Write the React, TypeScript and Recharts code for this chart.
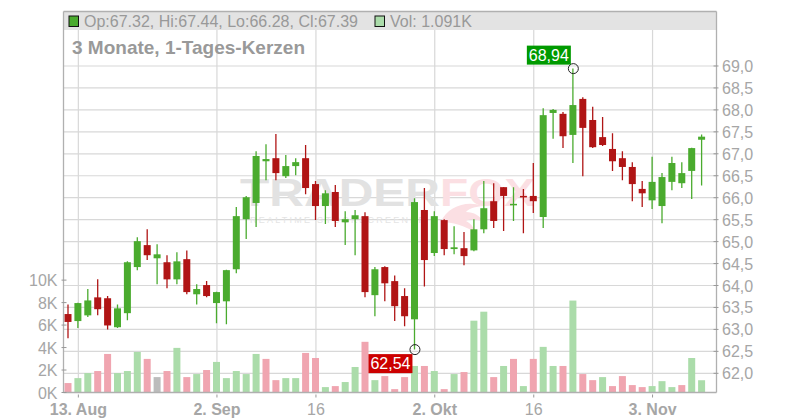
import React from 'react';
import {
  ComposedChart,
  Bar,
  XAxis,
  YAxis,
  CartesianGrid,
  ReferenceDot,
} from 'recharts';

// one entry per trading day, index 0 = 12. Aug
const opens = [63.35, 63.19, 63.32, 63.73, 63.71, 63.05, 63.37, 64.42, 64.92, 64.62, 64.53, 64.14, 64.60, 63.80, 64.01, 63.60, 63.64, 64.37, 65.51, 65.88, 66.83, 66.90, 66.49, 66.72, 66.90, 66.31, 65.81, 66.13, 65.44, 65.51, 65.58, 63.78, 64.42, 64.10, 63.76, 63.23, 65.72, 64.74, 65.49, 64.83, 64.85, 64.80, 65.28, 65.92, 66.24, 65.83, 66.04, 66.04, 65.56, 67.93, 67.91, 67.43, 68.25, 67.77, 67.38, 67.11, 66.90, 66.70, 66.20, 65.94, 65.81, 66.36, 66.33, 66.61, 67.32];
const closes = [63.17, 63.60, 63.66, 63.46, 63.09, 63.48, 64.53, 65.01, 64.69, 64.71, 64.14, 64.55, 63.85, 63.92, 63.76, 63.85, 64.35, 65.58, 66.01, 66.95, 66.88, 66.56, 66.72, 66.81, 66.22, 65.81, 66.10, 65.47, 65.51, 65.60, 63.85, 64.37, 64.05, 63.53, 63.30, 65.90, 64.58, 65.58, 64.83, 64.87, 64.67, 65.28, 65.76, 65.47, 66.04, 65.86, 66.01, 65.92, 67.88, 68.00, 67.40, 68.11, 67.59, 67.15, 67.20, 66.83, 66.70, 66.31, 66.10, 66.36, 66.47, 66.79, 66.56, 67.13, 67.39];
const highs = [63.57, 63.61, 63.92, 64.14, 63.76, 63.57, 64.55, 65.10, 65.28, 64.94, 64.69, 64.76, 64.80, 64.03, 64.10, 63.86, 64.36, 65.79, 66.04, 67.06, 67.22, 67.45, 66.97, 66.90, 67.20, 66.38, 66.17, 66.29, 65.69, 65.72, 65.67, 64.42, 64.44, 64.23, 63.94, 65.99, 66.22, 65.69, 65.51, 65.35, 65.22, 65.51, 66.38, 66.33, 66.24, 66.24, 66.20, 66.79, 68.04, 68.02, 67.95, 68.94, 68.29, 68.07, 67.84, 67.47, 67.06, 66.81, 66.38, 66.93, 66.56, 66.93, 66.81, 67.14, 67.44];
const lows = [62.80, 63.03, 63.28, 63.32, 63.00, 63.03, 63.21, 64.35, 64.58, 64.03, 63.94, 64.03, 63.80, 63.57, 63.73, 63.14, 63.12, 64.28, 65.06, 65.33, 66.40, 66.40, 66.45, 66.51, 66.08, 65.49, 65.40, 65.33, 64.92, 64.69, 63.73, 63.30, 63.64, 63.19, 63.07, 62.54, 63.98, 64.67, 64.69, 64.71, 64.46, 64.78, 65.19, 65.31, 65.24, 65.47, 65.19, 65.65, 65.31, 67.34, 67.13, 66.79, 66.49, 67.13, 67.18, 66.61, 66.40, 65.92, 65.79, 65.74, 65.42, 66.17, 66.22, 65.97, 66.28];
const volumes = [840, 1280, 1730, 1910, 3430, 1730, 1910, 3610, 2990, 1370, 1910, 3970, 1370, 1640, 2000, 2720, 1280, 1910, 1640, 3430, 2990, 1100, 1280, 1280, 3520, 3070, 480, 570, 930, 2270, 4510, 1100, 1460, 300, 1370, 2360, 2360, 1910, 300, 1640, 1820, 6390, 7190, 1370, 2360, 2990, 570, 2990, 4060, 2360, 2360, 8180, 1640, 1100, 1370, 570, 1460, 660, 480, 570, 1010, 480, 660, 3070, 1091];
// u = up, d = down, f = flat; the volume colour does not always follow the candle
const volumeDirs = 'duuddXuuudfXdududXuuuuuXdduudXduduuXdudddXududuXduuduXduduuXdudduXddddXuXuuduu'
  .replace(/X/g, '')
  .split('');

const priceTicks = [62, 62.5, 63, 63.5, 64, 64.5, 65, 65.5, 66, 66.5, 67, 67.5, 68, 68.5, 69];
const volumeTicks = [0, 2000, 4000, 6000, 8000, 10000];
const dateTicks = [1, 15, 25, 37, 47, 59];
const dateLabels: Record<number, string> = {
  1: '13. Aug', 15: '2. Sep', 25: '16', 37: '2. Okt', 47: '16', 59: '3. Nov',
};
const boldDates = [1, 15, 37, 59];

const data = opens.map((open, i) => ({
  idx: i,
  open,
  close: closes[i],
  high: highs[i],
  low: lows[i],
  volume: volumes[i],
  dir: volumeDirs[i],
}));

const UP = '#4aab2e';
const DOWN = '#b01515';
const TEXT = '#a6a6a6';
const GRID = '#d8d8d8';
const AXIS = '#b0b0b0';
const FONT = '"Liberation Sans", Arial, sans-serif';

const Candle = (props: any) => {
  const { x, y, width, height, payload } = props;
  const { open, close, high, low } = payload;
  const color = close >= open ? UP : DOWN;
  const perUnit = height / (high - low);
  const bodyTop = y + (high - Math.max(open, close)) * perUnit;
  const bodyH = Math.max(Math.abs(open - close) * perUnit, 1.5);
  const mid = x + width / 2;
  return (
    <g>
      <line x1={mid} x2={mid} y1={y} y2={y + height} stroke={color} strokeWidth={1.3} />
      <rect x={x} y={bodyTop} width={width} height={bodyH} fill={color} />
    </g>
  );
};

const VolumeBar = (props: any) => {
  const { x, y, width, height, payload } = props;
  const fills: Record<string, string> = { u: '#abdcaa', d: '#f0a5b0', f: '#bcbcbc' };
  return <rect x={x} y={y} width={width} height={height} fill={fills[payload.dir]} />;
};

const PriceTick = ({ x, y, payload }: any) => (
  <g>
    <line x1={x - 5} x2={x} y1={y} y2={y} stroke="#999" />
    <text x={x + 3.5} y={y + 6} fill={TEXT} fontSize={16} fontFamily={FONT}>
      {payload.value.toFixed(1).replace('.', ',')}
    </text>
  </g>
);

const VolumeTick = ({ x, y, payload }: any) => (
  <g>
    <line x1={x} x2={x + 5} y1={y} y2={y} stroke="#999" />
    <text x={x - 4} y={y + 6} fill={TEXT} fontSize={16} fontFamily={FONT} textAnchor="end">
      {payload.value / 1000}K
    </text>
  </g>
);

const DateTick = ({ x, y, payload }: any) => (
  <g>
    <line x1={x} x2={x} y1={y} y2={y + 3} stroke="#999" />
    <text
      x={x}
      y={y + 20}
      fill={TEXT}
      fontSize={16}
      fontFamily={FONT}
      textAnchor="middle"
      fontWeight={boldDates.includes(payload.value) ? 'bold' : 'normal'}
    >
      {dateLabels[payload.value]}
    </text>
  </g>
);

const PriceMark = ({ cx, cy, label, color, above }: any) => (
  <g>
    <circle cx={cx} cy={cy} r={5} fill="none" stroke="#222" strokeWidth={1} />
    <rect x={cx - 46.5} y={above ? cy - 23 : cy + 4.5} width={44} height={19} fill={color} />
    <text
      x={cx - 24.5}
      y={above ? cy - 8 : cy + 19.5}
      fill="#fff"
      fontSize={16}
      fontFamily={FONT}
      textAnchor="middle"
    >
      {label}
    </text>
  </g>
);

const Watermark = () => (
  <g fontFamily={FONT} fontWeight="bold">
    <text x={240} y={205.5} fontSize={39} fill="#e2e2e2" textLength={200} lengthAdjust="spacingAndGlyphs">
      TRADER
    </text>
    <text x={440} y={205.5} fontSize={39} fill="#fbdfe3" textLength={95} lengthAdjust="spacingAndGlyphs">
      FOX
    </text>
    <text x={250} y={222.5} fontSize={9} fontWeight="normal" fill="#e4e4e4" textLength={175}>
      REALTIME STOCKSCREENER
    </text>
    <path
      d="M441 222 C447 206 468 200 482 206 C474 207 468 209 466 212 C474 212 480 216 484 222 C476 219 470 219 466 221 C472 224 474 228 474 232 C466 226 452 222 441 222 Z"
      fill="#fbdfe3"
    />
  </g>
);

const Header = () => (
  <g fontFamily={FONT}>
    <rect x={63.5} y={11.5} width={653} height={18.5} fill="#e3e3e3" />
    <rect x={69} y={16} width={9.5} height={10.5} fill={UP} stroke="#111" />
    <text x={84} y={26.5} fontSize={16} fill="#999">
      Op:67.32, Hi:67.44, Lo:66.28, Cl:67.39
    </text>
    <rect x={375} y={16} width={9.5} height={10.5} fill="#abdcaa" stroke="#111" />
    <text x={390} y={26.5} fontSize={16} fill="#999">
      Vol: 1.091K
    </text>
    <text x={72} y={54} fontSize={19} fontWeight="bold" fill="#999">
      3 Monate, 1-Tages-Kerzen
    </text>
    <line x1={63.5} x2={716.5} y1={11.5} y2={11.5} stroke={AXIS} strokeWidth={1.3} />
  </g>
);

const axisLine = { stroke: AXIS, strokeWidth: 1.3 };

export default function App() {
  return (
    <div style={{ position: 'absolute', left: 0, top: 0, width: 800, height: 420 }}>
      <ComposedChart
        width={800}
        height={420}
        data={data}
        margin={{ top: 11.5, right: 0, bottom: 0, left: 0 }}
      >
        <Watermark />
        <Header />
        <CartesianGrid stroke={GRID} strokeWidth={1.2} yAxisId="price" syncWithTicks />
        <XAxis
          dataKey="idx"
          type="category"
          ticks={dateTicks}
          interval={0}
          height={27.5}
          padding={{ left: 0, right: 9.5 }}
          tick={<DateTick />}
          tickLine={false}
          tickSize={0}
          axisLine={axisLine}
        />
        <XAxis
          xAxisId="vol"
          dataKey="idx"
          type="category"
          height={0}
          hide
          padding={{ left: 0, right: 9.5 }}
        />
        <YAxis
          yAxisId="volume"
          orientation="left"
          width={63.5}
          domain={[0, 33900]}
          ticks={volumeTicks}
          interval={0}
          allowDataOverflow
          tick={<VolumeTick />}
          tickLine={false}
          tickSize={0}
          axisLine={axisLine}
        />
        <YAxis
          yAxisId="price"
          orientation="right"
          width={83.5}
          domain={[61.563, 70.241]}
          ticks={priceTicks}
          allowDataOverflow
          interval={0}
          tick={<PriceTick />}
          tickLine={false}
          tickSize={0}
          axisLine={axisLine}
        />
        <Bar
          xAxisId="vol"
          yAxisId="volume"
          dataKey="volume"
          barSize={7}
          shape={<VolumeBar />}
          isAnimationActive={false}
        />
        <Bar
          yAxisId="price"
          dataKey={(d: any) => [d.low, d.high]}
          barSize={7}
          shape={<Candle />}
          isAnimationActive={false}
        />
        <ReferenceDot
          yAxisId="price"
          x={51}
          y={68.94}
          shape={<PriceMark label="68,94" color="#009a00" above />}
        />
        <ReferenceDot
          yAxisId="price"
          x={35}
          y={62.54}
          shape={<PriceMark label="62,54" color="#cc0000" />}
        />
      </ComposedChart>
    </div>
  );
}
